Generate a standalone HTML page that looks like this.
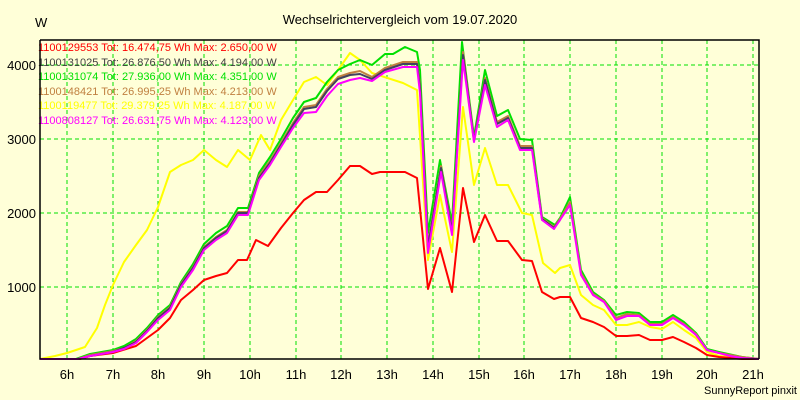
<!DOCTYPE html>
<html><head><meta charset="utf-8"><style>
html,body{margin:0;padding:0;background:#ffffd8;}
svg{display:block;font-family:"Liberation Sans",sans-serif;}
</style></head><body>
<svg width="800" height="400" viewBox="0 0 800 400" xmlns="http://www.w3.org/2000/svg">
<rect width="800" height="400" fill="#ffffd8"/>
<text x="400" y="24" font-size="13" text-anchor="middle" fill="#000">Wechselrichtervergleich vom 19.07.2020</text>
<text x="35" y="27" font-size="13" fill="#000">W</text>
<g stroke="#00e000" stroke-dasharray="4,3" stroke-width="1">
<line x1="67" y1="40" x2="67" y2="359"/><line x1="113" y1="40" x2="113" y2="359"/><line x1="158" y1="40" x2="158" y2="359"/><line x1="204" y1="40" x2="204" y2="359"/><line x1="250" y1="40" x2="250" y2="359"/><line x1="296" y1="40" x2="296" y2="359"/><line x1="341" y1="40" x2="341" y2="359"/><line x1="387" y1="40" x2="387" y2="359"/><line x1="433" y1="40" x2="433" y2="359"/><line x1="479" y1="40" x2="479" y2="359"/><line x1="524" y1="40" x2="524" y2="359"/><line x1="570" y1="40" x2="570" y2="359"/><line x1="616" y1="40" x2="616" y2="359"/><line x1="662" y1="40" x2="662" y2="359"/><line x1="707" y1="40" x2="707" y2="359"/><line x1="753" y1="40" x2="753" y2="359"/>
<line x1="40" y1="287" x2="759" y2="287"/><line x1="40" y1="213" x2="759" y2="213"/><line x1="40" y1="139" x2="759" y2="139"/><line x1="40" y1="65" x2="759" y2="65"/>
</g>
<g font-size="13" fill="#000" text-anchor="end">
<text x="36" y="292">1000</text><text x="36" y="218">2000</text><text x="36" y="144">3000</text><text x="36" y="70">4000</text>
</g>
<g font-size="13" fill="#000" text-anchor="middle">
<text x="67" y="379">6h</text><text x="113" y="379">7h</text><text x="158" y="379">8h</text><text x="204" y="379">9h</text><text x="250" y="379">10h</text><text x="296" y="379">11h</text><text x="341" y="379">12h</text><text x="387" y="379">13h</text><text x="433" y="379">14h</text><text x="479" y="379">15h</text><text x="524" y="379">16h</text><text x="570" y="379">17h</text><text x="616" y="379">18h</text><text x="662" y="379">19h</text><text x="707" y="379">20h</text><text x="753" y="379">21h</text>
</g>
<text x="797" y="394" font-size="11" text-anchor="end" fill="#000">SunnyReport pinxit</text>
<g fill="none" stroke-width="2" stroke-linejoin="round">
<polyline stroke="#ffff00" points="40,359 55,356 67,353 85,347 97,328 105,305 113,285 124,262 136,245 147,230 158,207 170,172 181,165 193,160 204,150 216,160 227,167 238,150 250,160 261,135 270,150 281,120 293,100 304,82 316,77 327,85 338,70 350,53 360,60 372,73 403,83 417,90 428,260 440,195 452,252 463,107 474,185 485,148 497,185 508,185 522,213 532,215 543,263 555,273 560,268 570,265 581,295 593,305 604,310 616,325 627,325 639,322 650,327 662,329 673,322 684,330 696,338 707,352 719,356 742,358 759,359"/>
<polyline stroke="#ff0000" points="40,359 80,359 90,356 113,353 136,346 147,338 158,330 170,318 181,300 193,290 204,280 216,276 227,273 238,260 247,260 256,240 268,246 281,228 293,213 304,200 316,192 327,192 338,180 350,166 360,166 372,174 380,172 405,172 417,178 428,289 440,248 452,292 463,188 474,242 485,215 497,241 508,241 522,260 532,261 542,292 554,299 560,297 570,297 581,318 593,322 604,327 616,336 627,336 639,335 650,340 662,340 673,337 684,342 696,348 707,355 719,357 742,359 759,359"/>
<polyline stroke="#00e000" points="40,359 76,359 90,354 113,350 124,346 136,339 147,328 158,315 170,305 181,282 193,264 204,244 216,233 227,226 238,208 248,208 259,173 270,157 281,139 293,118 304,102 316,98 327,82 338,70 350,64 360,60 372,65 385,54 393,54 405,47 417,52 420,70 428,233 440,160 452,223 462,42 474,137 485,70 497,116 508,110 520,139 532,140 542,217 555,225 560,218 570,197 581,270 593,292 604,300 616,315 627,312 639,313 650,322 662,322 673,315 684,322 696,333 707,349 719,352 742,357 759,359"/>
<polyline stroke="#c08040" points="40,359 78,359 90,355 113,351 124,348 136,341 147,330 158,317 170,307 181,284 193,267 204,247 216,237 227,230 238,212 248,212 259,176 270,161 281,143 293,123 304,107 316,105 327,89 338,77 350,73 360,71 372,77 385,68 403,62 417,62 420,85 428,245 441,166 452,230 463,52 474,140 485,78 497,122 508,116 520,146 532,146 542,218 554,227 560,219 570,202 581,273 593,294 604,301 616,318 627,314 639,315 650,324 662,324 673,317 684,324 696,334 707,350 719,353 742,357 759,359"/>
<polyline stroke="#404060" points="40,359 78,359 90,356 113,352 124,348 136,342 147,331 158,318 170,308 181,285 193,268 204,248 216,238 227,231 238,213 248,213 259,178 270,163 281,145 293,125 304,109 316,107 327,91 338,79 350,75 360,74 372,79 385,70 403,64 417,64 420,88 428,248 441,168 452,232 463,55 474,141 485,80 497,124 508,118 520,148 532,148 542,219 554,228 560,220"/>
<polyline stroke="#ff00ff" points="40,359 78,359 90,356 113,352 124,349 136,343 147,332 158,320 170,310 181,287 193,270 204,250 216,240 227,233 238,215 248,215 259,180 270,165 281,147 293,128 304,113 316,112 327,96 338,84 350,80 360,78 372,81 385,72 403,67 417,67 420,93 428,253 441,172 452,235 463,60 474,142 485,85 497,127 508,120 520,150 532,150 542,220 554,229 560,220 570,205 581,275 593,295 604,302 616,320 627,316 639,316 650,325 662,325 673,318 684,325 696,335 707,350 719,353 730,356 742,358 759,359"/>
</g>
<g font-size="11">
<text x="38" y="51" fill="#ff0000">1100129553 Tot: 16.474,75 Wh Max: 2.650,00 W</text>
<text x="38" y="66" fill="#404040">1100131025 Tot: 26.876,50 Wh Max: 4.194,00 W</text>
<text x="38" y="80" fill="#00e000">1100131074 Tot: 27.936,00 Wh Max: 4.351,00 W</text>
<text x="38" y="95" fill="#c08040">1100148421 Tot: 26.995,25 Wh Max: 4.213,00 W</text>
<text x="38" y="109" fill="#ffff00">1100119477 Tot: 29.379,25 Wh Max: 4.187,00 W</text>
<text x="38" y="124" fill="#ff00ff">1100808127 Tot: 26.631,75 Wh Max: 4.123,00 W</text>
</g>
<polyline points="40,40 759,40 759,359" fill="none" stroke="#000" stroke-width="1.5"/>
<polyline points="40,40 40,359 759,359" fill="none" stroke="#000" stroke-width="1.5"/>
</svg>
</body></html>
